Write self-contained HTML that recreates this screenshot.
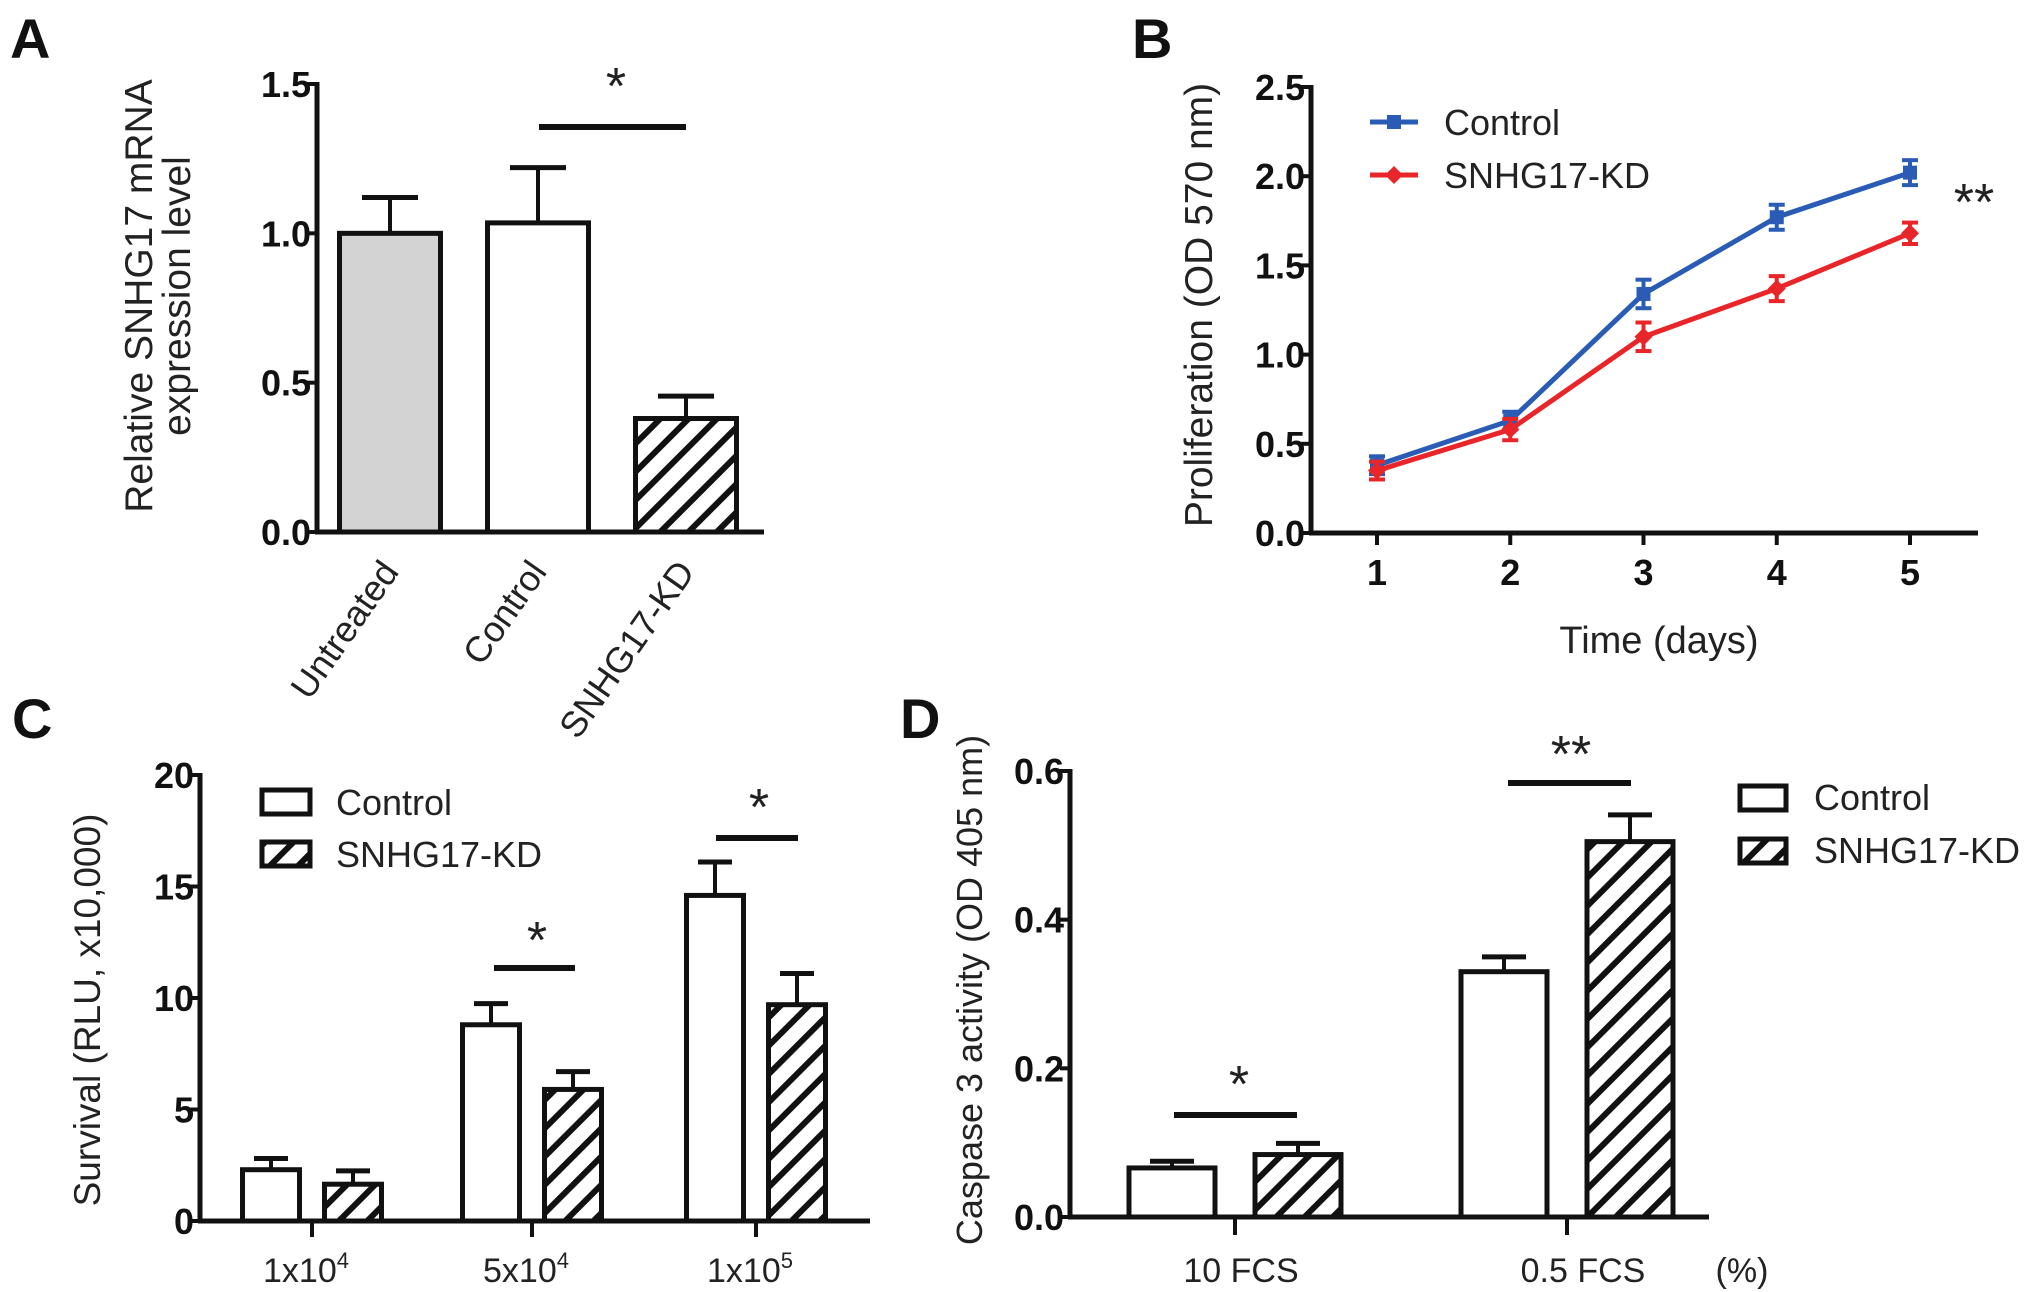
<!DOCTYPE html>
<html><head><meta charset="utf-8">
<style>
html,body{margin:0;padding:0;background:#fff;}
svg{display:block;}
text{font-family:"Liberation Sans",Arial,sans-serif;fill:#222;}
.tick{font-family:"Liberation Sans Narrow","Liberation Sans",sans-serif;font-weight:bold;font-size:36px;fill:#111;}
.panel{font-weight:bold;font-size:56px;fill:#111;}
</style></head>
<body>
<svg id="fig" width="2031" height="1292" viewBox="0 0 2031 1292" xmlns="http://www.w3.org/2000/svg">
<defs>
<pattern id="hatch" patternUnits="userSpaceOnUse" width="20" height="20" patternTransform="rotate(45)">
<rect width="20" height="20" fill="#fff"/>
<rect x="0" y="0" width="6" height="20" fill="#111"/>
</pattern>
</defs>
<text class="panel" x="10" y="58">A</text>
<text class="panel" x="1132" y="58">B</text>
<text class="panel" x="12" y="738">C</text>
<text class="panel" x="900" y="738">D</text>
</svg>
<script>
// Panel A data
const aCategories = ["Untreated","Control","SNHG17-KD"];
const aValues = [1.0, 1.035, 0.38];
const aErrors = [0.12, 0.185, 0.075];
const aTicks = ["0.0","0.5","1.0","1.5"];
// Panel B data
const bDays = [1,2,3,4,5];
const bControl = [0.38, 0.63, 1.34, 1.77, 2.02];
const bKD = [0.35, 0.58, 1.10, 1.37, 1.68];
const bControlErr = [0.05, 0.05, 0.08, 0.07, 0.07];
const bKDErr = [0.05, 0.06, 0.08, 0.07, 0.06];
const bTicks = ["0.0","0.5","1.0","1.5","2.0","2.5"];
// Panel C data
const cCategories = ["1x10^4","5x10^4","1x10^5"];
const cControl = [2.3, 8.8, 14.6];
const cKD = [1.65, 5.9, 9.7];
const cControlErr = [0.5, 0.95, 1.5];
const cKDErr = [0.6, 0.8, 1.4];
const cTicks = ["0","5","10","15","20"];
// Panel D data
const dCategories = ["10 FCS","0.5 FCS"];
const dControl = [0.066, 0.33];
const dKD = [0.084, 0.505];
const dControlErr = [0.009, 0.02];
const dKDErr = [0.015, 0.036];
const dTicks = ["0.0","0.2","0.4","0.6"];

const svg = document.getElementById('fig');
const NS = "http://www.w3.org/2000/svg";
function el(tag, attrs, parent){
  const e = document.createElementNS(NS, tag);
  for (const k in attrs) e.setAttribute(k, attrs[k]);
  (parent||svg).appendChild(e);
  return e;
}
function line(x1,y1,x2,y2,stroke,w,parent){return el('line',{x1,y1,x2,y2,stroke:stroke||'#111','stroke-width':w||5},parent);}

function yAxis(x, y0, y1, ticks, scale, parent){
  const ax = line(x, y0+2, x, y1-2, '#111', 5, parent);
  
  
  ticks.forEach(t=>{
    const y = scale(parseFloat(t));
    line(x-10, y, x, y, '#111', 4, parent);
    const tx = el('text',{x:x-6,y:y+13,'text-anchor':'end',class:'tick'},parent);
    tx.textContent = t;
    
    
  });
}
function bar(x, w, y0, yTop, fill, parent, name){
  const r = el('rect',{x:x, y:yTop, width:w, height:y0-yTop, fill:fill, stroke:'#111','stroke-width':5},parent);
  
  
  return r;
}
function errUp(cx, yTop, yErr, capW, parent){
  line(cx, yTop, cx, yErr, '#111', 4, parent);
  line(cx-capW/2, yErr, cx+capW/2, yErr, '#111', 5, parent);
}
function txt(x,y,s,size,anchor,parent,name,extra){
  const t = el('text',Object.assign({x,y,'font-size':size,'text-anchor':anchor||'middle'},extra||{}),parent);
  t.textContent = s;
  
  
  return t;
}

// ---------- Panel A ----------
(function(){
  const g = el('g',{});
  
  
  const X0=317, Y0=532, Y1=84, yMax=1.5;
  const y = v => Y0 - v/yMax*(Y0-Y1);
  const centers = [390, 538, 686], bw = 101;
  const fills = ['#d3d3d3','#fff','url(#hatch)'];
  aValues.forEach((v,i)=>{
    errUp(centers[i], y(v), y(v+aErrors[i]), 56, g);
    bar(centers[i]-bw/2, bw, Y0, y(v), fills[i], g, 'bar-'+aCategories[i].toLowerCase());
  });
  yAxis(X0, Y0, Y1, aTicks, y, g);
  line(X0-2, Y0, 764, Y0, '#111', 5, g);
  line(539, 127, 686, 127, '#111', 6, g);
  txt(616, 104, '*', 52, 'middle', g, 'significance-star');
  aCategories.forEach((c,i)=>{
    txt(centers[i]+10, Y0+40, c, 36, 'end', g, 'x-tick-label', {transform:`rotate(-55 ${centers[i]+10} ${Y0+40})`});
  });
  txt(0,0,'Relative SNHG17 mRNA',39,'middle',g,'y-axis-title',{transform:'translate(152 296) rotate(-90)'});
  txt(0,0,'expression level',39,'middle',g,'y-axis-title-line2',{transform:'translate(190 296) rotate(-90)'});
})();

// ---------- Panel B ----------
(function(){
  const g = el('g',{});
  
  
  const X0=1311, Y0=533, Y1=87, yMax=2.5;
  const y = v => Y0 - v/yMax*(Y0-Y1);
  const x = d => 1377 + (d-1)*133.25;
  yAxis(X0, Y0, Y1, bTicks, y, g);
  line(X0-2, Y0, 1978, Y0, '#111', 5, g);
  bDays.forEach(d=>{
    line(x(d), Y0, x(d), Y0+12, '#111', 4, g);
    txt(x(d), 585, String(d), 36, 'middle', g, 'x-tick-label', {class:'tick'});
  });
  function series(vals, errs, color, name, marker){
    const pts = vals.map((v,i)=>x(bDays[i])+','+y(v)).join(' ');
    const pl = el('polyline',{points:pts,fill:'none',stroke:color,'stroke-width':5},g);
    
    
    vals.forEach((v,i)=>{
      const cx=x(bDays[i]);
      line(cx, y(v-errs[i]), cx, y(v+errs[i]), color, 4, g);
      line(cx-8, y(v-errs[i]), cx+8, y(v-errs[i]), color, 4, g);
      line(cx-8, y(v+errs[i]), cx+8, y(v+errs[i]), color, 4, g);
      let m;
      if(marker==='square') m = el('rect',{x:cx-7,y:y(v)-7,width:14,height:14,fill:color},g);
      else m = el('polygon',{points:`${cx},${y(v)-9} ${cx+9},${y(v)} ${cx},${y(v)+9} ${cx-9},${y(v)}`,fill:color},g);
      
      
    });
  }
  series(bControl, bControlErr, '#2b5cb5', 'control', 'square');
  series(bKD, bKDErr, '#e8262a', 'snhg17-kd', 'diamond');
  line(1370,122,1418,122,'#2b5cb5',5,g);
  el('rect',{x:1387,y:115,width:14,height:14,fill:'#2b5cb5'},g);
  txt(1444,135,'Control',36,'start',g,'legend-entry-control');
  line(1370,175,1418,175,'#e8262a',5,g);
  el('polygon',{points:'1394,166 1403,175 1394,184 1385,175',fill:'#e8262a'},g);
  txt(1444,188,'SNHG17-KD',36,'start',g,'legend-entry-kd');
  txt(1974,220,'**',52,'middle',g,'significance-star');
  txt(1659,653,'Time (days)',38,'middle',g,'x-axis-title');
  txt(0,0,'Proliferation (OD 570 nm)',39,'middle',g,'y-axis-title',{transform:'translate(1212 305) rotate(-90)'});
})();

// ---------- Panel C ----------
(function(){
  const g = el('g',{});
  
  
  const X0=200, Y0=1221, Y1=775, yMax=20;
  const y = v => Y0 - v/yMax*(Y0-Y1);
  const ticksX = [312, 532, 756], bw=57, off=41;
  cCategories.forEach((c,i)=>{
    const cx1=ticksX[i]-off, cx2=ticksX[i]+off;
    errUp(cx1, y(cControl[i]), y(cControl[i]+cControlErr[i]), 34, g);
    bar(cx1-bw/2, bw, Y0, y(cControl[i]), '#fff', g, 'bar-control-'+i);
    errUp(cx2, y(cKD[i]), y(cKD[i]+cKDErr[i]), 34, g);
    bar(cx2-bw/2, bw, Y0, y(cKD[i]), 'url(#hatch)', g, 'bar-kd-'+i);
    line(ticksX[i], Y0, ticksX[i], Y0+16, '#111', 4, g);
    const parts = c.split('^');
    const t = txt(ticksX[i]-6, 1282, parts[0], 34, 'middle', g, 'x-tick-label');
    const sp = el('tspan',{dy:-14,'font-size':22},t); sp.textContent = parts[1];
  });
  yAxis(X0, Y0, Y1, cTicks, y, g);
  line(X0-2, Y0, 870, Y0, '#111', 5, g);
  line(494,968,575,968,'#111',6,g);
  txt(537,958,'*',52,'middle',g,'significance-star');
  line(716,838,798,838,'#111',6,g);
  txt(759,825,'*',52,'middle',g,'significance-star');
  el('rect',{x:262,y:790,width:48,height:24,fill:'#fff',stroke:'#111','stroke-width':5},g);
  txt(336,815,'Control',36,'start',g,'legend-entry-control');
  el('rect',{x:262,y:842,width:48,height:24,fill:'url(#hatch)',stroke:'#111','stroke-width':5},g);
  txt(336,867,'SNHG17-KD',36,'start',g,'legend-entry-kd');
  txt(0,0,'Survival (RLU, x10,000)',37,'middle',g,'y-axis-title',{transform:'translate(100 1010) rotate(-90)'});
})();

// ---------- Panel D ----------
(function(){
  const g = el('g',{});
  
  
  const X0=1070, Y0=1217, Y1=771, yMax=0.6;
  const y = v => Y0 - v/yMax*(Y0-Y1);
  const ticksX = [1235, 1567], bw=86, off=63;
  dCategories.forEach((c,i)=>{
    const cx1=ticksX[i]-off, cx2=ticksX[i]+off;
    errUp(cx1, y(dControl[i]), y(dControl[i]+dControlErr[i]), 44, g);
    bar(cx1-bw/2, bw, Y0, y(dControl[i]), '#fff', g, 'bar-control-'+i);
    errUp(cx2, y(dKD[i]), y(dKD[i]+dKDErr[i]), 44, g);
    bar(cx2-bw/2, bw, Y0, y(dKD[i]), 'url(#hatch)', g, 'bar-kd-'+i);
    line(ticksX[i], Y0, ticksX[i], Y0+18, '#111', 4, g);
    txt(ticksX[i]+[6,16][i], 1282, c, 34, 'middle', g, 'x-tick-label');
  });
  yAxis(X0, Y0, Y1, dTicks, y, g);
  line(X0-2, Y0, 1709, Y0, '#111', 5, g);
  txt(1742,1282,'(%)',34,'middle',g,'x-unit-label');
  line(1174,1115,1297,1115,'#111',6,g);
  txt(1239,1102,'*',52,'middle',g,'significance-star');
  line(1508,783,1631,783,'#111',6,g);
  txt(1571,772,'**',52,'middle',g,'significance-star');
  el('rect',{x:1740,y:786,width:46,height:24,fill:'#fff',stroke:'#111','stroke-width':5},g);
  txt(1814,810,'Control',36,'start',g,'legend-entry-control');
  el('rect',{x:1740,y:839,width:46,height:24,fill:'url(#hatch)',stroke:'#111','stroke-width':5},g);
  txt(1814,863,'SNHG17-KD',36,'start',g,'legend-entry-kd');
  txt(0,0,'Caspase 3 activity (OD 405 nm)',36,'middle',g,'y-axis-title',{transform:'translate(982 990) rotate(-90)'});
})();
</script>
</body></html>
